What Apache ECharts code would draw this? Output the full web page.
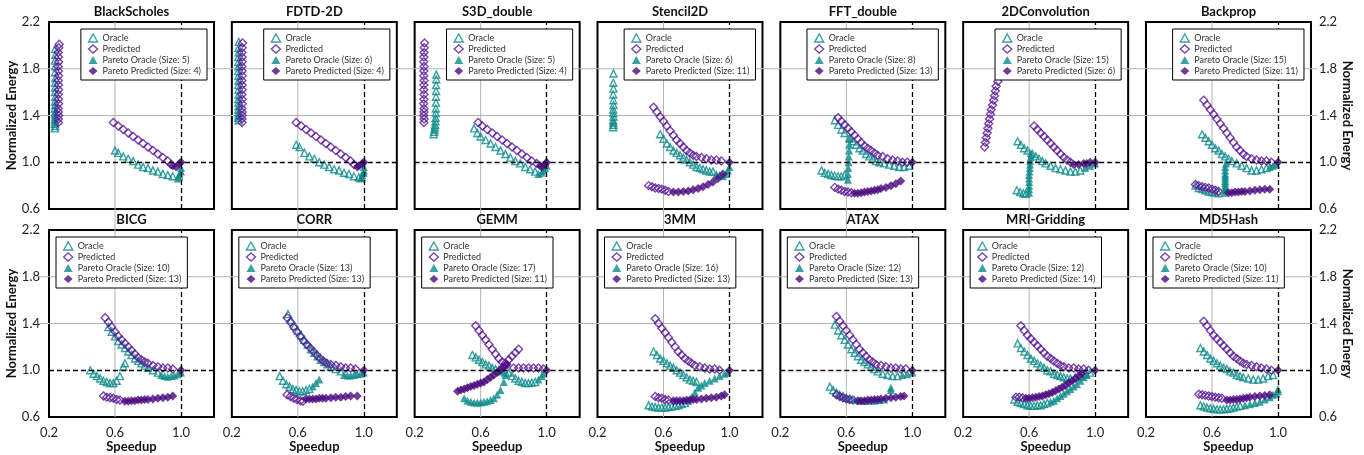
<!DOCTYPE html>
<html>
<head>
<meta charset="utf-8">
<script src="https://cdn.jsdelivr.net/npm/echarts@6/dist/echarts.min.js"></script>
<style>
  html, body { margin: 0; padding: 0; background: #fff; }
  #main { width: 1364px; height: 455px; }
</style>
</head>
<body>
<div id="main"></div>
<script>
// panel names and pareto set sizes (from the legends)
const benchmarks = ['BlackScholes', 'FDTD-2D', 'S3D_double', 'Stencil2D', 'FFT_double', '2DConvolution', 'Backprop',
                    'BICG', 'CORR', 'GEMM', '3MM', 'ATAX', 'MRI-Gridding', 'MD5Hash'];
const paretoOracleSizes = [5, 6, 5, 6, 8, 15, 15, 10, 13, 17, 16, 12, 12, 10];
const paretoPredictedSizes = [4, 4, 4, 11, 13, 6, 11, 13, 13, 11, 13, 13, 14, 11];
const speedupTicks = [0.2, 0.6, 1.0];
const energyTicks = [0.6, 1.0, 1.4, 1.8, 2.2];

// [speedup, normalized energy]
const bsOracle = [
  [0.236,1.29],[0.238,1.31],[0.235,1.33],[0.237,1.35],[0.236,1.37],[0.238,1.39],[0.236,1.41],
  [0.237,1.43],[0.235,1.46],[0.237,1.49],[0.236,1.52],[0.238,1.56],[0.236,1.60],[0.237,1.64],
  [0.236,1.68],[0.238,1.72],[0.236,1.77],[0.237,1.82],[0.236,1.87],[0.238,1.92],[0.237,1.97],
  [0.60,1.10],[0.62,1.08],[0.65,1.05],[0.68,1.03],[0.71,1.01],[0.74,0.98],[0.77,0.96],
  [0.80,0.95],[0.83,0.93],[0.86,0.92],[0.89,0.90],[0.92,0.89],[0.95,0.88]
];
const bsPredicted = [
  [0.257,1.34],[0.256,1.37],[0.258,1.40],[0.257,1.43],[0.256,1.46],[0.258,1.50],[0.257,1.54],
  [0.256,1.58],[0.258,1.62],[0.257,1.66],[0.256,1.70],[0.258,1.74],[0.257,1.78],[0.256,1.82],
  [0.258,1.86],[0.257,1.90],[0.256,1.94],[0.259,1.98],[0.262,2.01],
  [0.59,1.34],[0.62,1.31],[0.65,1.28],[0.68,1.25],[0.71,1.22],[0.74,1.19],[0.77,1.16],
  [0.80,1.13],[0.83,1.10],[0.86,1.07],[0.89,1.04],[0.92,1.01],[0.94,0.98]
];
const bsParetoOracle = [[0.98,0.86],[0.99,0.88],[0.99,0.90],[1.0,0.92],[1.0,0.95]];
const bsParetoPredicted = [[0.95,0.97],[0.97,0.96],[0.99,0.99],[1.0,1.0]];

const fdOracle = [
  [0.241,1.36],[0.239,1.38],[0.241,1.40],[0.240,1.42],[0.239,1.45],[0.241,1.48],[0.240,1.51],
  [0.239,1.54],[0.241,1.58],[0.240,1.62],[0.239,1.66],[0.241,1.70],[0.240,1.74],[0.239,1.78],
  [0.241,1.82],[0.240,1.86],[0.239,1.90],[0.241,1.94],[0.240,1.98],[0.242,2.03],
  [0.59,1.15],[0.61,1.13],[0.64,1.08],[0.67,1.05],[0.70,1.03],[0.73,1.00],[0.76,0.98],
  [0.79,0.96],[0.82,0.94],[0.85,0.93],[0.88,0.91],[0.91,0.90],[0.94,0.88],[0.97,0.87]
];
const fdPredicted = [
  [0.262,1.34],[0.261,1.37],[0.263,1.40],[0.262,1.43],[0.261,1.46],[0.263,1.50],[0.262,1.54],
  [0.261,1.58],[0.263,1.62],[0.262,1.66],[0.261,1.70],[0.263,1.74],[0.262,1.78],[0.261,1.82],
  [0.263,1.86],[0.262,1.90],[0.261,1.94],[0.263,1.98],[0.265,2.02],
  [0.59,1.34],[0.62,1.31],[0.65,1.28],[0.68,1.25],[0.71,1.22],[0.74,1.19],[0.77,1.16],
  [0.80,1.13],[0.83,1.10],[0.86,1.07],[0.89,1.04],[0.92,1.01],[0.94,0.98]
];
const fdParetoOracle = [[0.98,0.86],[0.99,0.87],[0.99,0.89],[1.0,0.91],[1.0,0.93],[1.0,0.96]];
const fdParetoPredicted = [[0.96,0.96],[0.97,0.97],[0.99,0.99],[1.0,1.0]];

const s3Oracle = [
  [0.315,1.24],[0.318,1.26],[0.320,1.28],[0.322,1.30],[0.324,1.32],[0.326,1.35],[0.327,1.38],
  [0.328,1.42],[0.328,1.46],[0.329,1.51],[0.329,1.56],[0.330,1.61],[0.330,1.66],[0.331,1.71],[0.331,1.75],
  [0.56,1.29],[0.58,1.25],[0.60,1.22],[0.63,1.19],[0.66,1.16],[0.69,1.13],[0.72,1.10],
  [0.75,1.07],[0.78,1.04],[0.81,1.01],[0.84,0.99],[0.87,0.96],[0.90,0.94],[0.93,0.92]
];
const s3Predicted = [
  [0.256,1.34],[0.257,1.37],[0.255,1.40],[0.256,1.43],[0.257,1.46],[0.255,1.50],[0.256,1.54],
  [0.257,1.58],[0.255,1.62],[0.256,1.66],[0.257,1.70],[0.255,1.74],[0.256,1.78],[0.257,1.82],
  [0.255,1.86],[0.256,1.90],[0.257,1.94],[0.258,1.98],[0.260,2.02],
  [0.585,1.34],[0.61,1.31],[0.64,1.28],[0.67,1.25],[0.70,1.22],[0.73,1.19],[0.76,1.16],
  [0.79,1.13],[0.82,1.10],[0.85,1.07],[0.88,1.04],[0.91,1.01],[0.94,0.99]
];
const s3ParetoOracle = [[0.95,0.90],[0.97,0.91],[0.98,0.93],[0.99,0.95],[1.0,0.97]];
const s3ParetoPredicted = [[0.96,0.97],[0.97,0.96],[0.99,0.98],[1.0,1.0]];

const stOracle = [
  [0.295,1.30],[0.297,1.32],[0.296,1.34],[0.295,1.36],[0.297,1.39],[0.296,1.42],[0.295,1.45],
  [0.297,1.49],[0.296,1.53],[0.295,1.58],[0.297,1.63],[0.296,1.68],[0.297,1.76],
  [0.58,1.24],[0.60,1.20],[0.62,1.16],[0.64,1.13],[0.66,1.10],[0.68,1.08],[0.70,1.06],
  [0.72,1.04],[0.74,1.02],[0.76,1.00],[0.78,0.98],[0.80,0.96],[0.82,0.95],[0.84,0.94],
  [0.86,0.93],[0.88,0.92],[0.90,0.92]
];
const stPredicted = [
  [0.54,1.47],[0.56,1.43],[0.58,1.39],[0.60,1.35],[0.62,1.31],[0.64,1.27],[0.66,1.23],
  [0.68,1.19],[0.70,1.16],[0.72,1.13],[0.74,1.10],[0.76,1.08],[0.78,1.06],[0.80,1.05],
  [0.83,1.04],[0.86,1.03],[0.89,1.02],[0.92,1.02],[0.95,1.01],
  [0.51,0.80],[0.53,0.79],[0.55,0.78],[0.57,0.775],[0.59,0.77],[0.61,0.76],[0.63,0.75]
];
const stParetoOracle = [[0.92,0.90],[0.94,0.89],[0.96,0.88],[0.98,0.90],[0.99,0.93],[1.0,0.96]];
const stParetoPredicted = [
  [0.66,0.745],[0.69,0.745],[0.72,0.75],[0.75,0.755],[0.78,0.765],[0.81,0.775],[0.84,0.79],
  [0.87,0.81],[0.90,0.83],[0.93,0.86],[0.96,0.90],[1.0,1.0]
];

const ffOracle = [
  [0.53,1.36],[0.55,1.32],[0.57,1.28],[0.59,1.25],[0.62,1.21],[0.64,1.18],[0.66,1.15],
  [0.68,1.12],[0.70,1.10],[0.72,1.07],[0.74,1.05],[0.76,1.03],[0.78,1.01],[0.80,1.00],
  [0.83,0.99],[0.86,0.98],[0.89,0.97],[0.92,0.96],[0.95,0.96],[0.98,0.97],
  [0.45,0.93],[0.47,0.91],[0.49,0.90],[0.51,0.89],[0.53,0.885],[0.55,0.88],[0.57,0.88],[0.59,0.89]
];
const ffParetoOracle = [[0.61,0.85],[0.61,0.90],[0.612,0.95],[0.614,1.00],[0.615,1.05],[0.617,1.10],[0.618,1.15],[0.62,1.20]];
const ffPredicted = [
  [0.55,1.38],[0.57,1.35],[0.59,1.32],[0.61,1.29],[0.63,1.26],[0.65,1.23],[0.67,1.20],
  [0.69,1.17],[0.71,1.14],[0.73,1.12],[0.75,1.10],[0.77,1.08],[0.79,1.06],[0.82,1.05],
  [0.85,1.03],[0.88,1.02],[0.91,1.01],[0.94,1.00],[0.97,1.00],
  [0.53,0.785],[0.55,0.77],[0.57,0.76],[0.59,0.75],[0.61,0.745],[0.63,0.74]
];
const ffParetoPredicted = [
  [0.65,0.735],[0.67,0.735],[0.69,0.74],[0.71,0.745],[0.73,0.75],[0.75,0.755],[0.77,0.76],
  [0.79,0.765],[0.81,0.775],[0.84,0.785],[0.87,0.80],[0.90,0.815],[0.93,0.84],[1.0,1.0]
];

const cvOracle = [
  [0.53,1.18],[0.55,1.15],[0.57,1.12],[0.59,1.10],[0.62,1.07],[0.64,1.05],[0.66,1.03],
  [0.68,1.01],[0.70,0.99],[0.73,0.97],[0.76,0.95],[0.79,0.94],[0.82,0.93],[0.85,0.92],
  [0.88,0.92],[0.91,0.93],
  [0.525,0.76],[0.545,0.745],[0.565,0.735],[0.58,0.73]
];
const cvParetoOracle = [
  [0.60,0.74],[0.60,0.77],[0.60,0.80],[0.60,0.83],[0.60,0.86],[0.60,0.89],[0.602,0.92],
  [0.604,0.95],[0.605,0.98],[0.606,1.01],[0.608,1.04],[0.61,1.08],[0.94,0.95],[0.97,0.97],[1.0,0.99]
];
const cvPredicted = [
  [0.33,1.13],[0.335,1.17],[0.34,1.21],[0.345,1.25],[0.35,1.29],[0.355,1.33],[0.36,1.37],
  [0.365,1.41],[0.37,1.45],[0.378,1.49],[0.385,1.53],[0.39,1.57],[0.395,1.61],[0.40,1.65],[0.41,1.69],
  [0.63,1.31],[0.65,1.28],[0.67,1.25],[0.69,1.22],[0.71,1.19],[0.73,1.16],[0.75,1.13],
  [0.77,1.10],[0.79,1.07],[0.81,1.04],[0.83,1.02],[0.85,1.00]
];
const cvParetoPredicted = [[0.87,0.98],[0.90,0.98],[0.93,0.99],[0.95,0.99],[0.97,1.0],[1.0,1.0]];

const bpOracle = [
  [0.54,1.24],[0.56,1.21],[0.58,1.18],[0.60,1.15],[0.62,1.12],[0.64,1.10],[0.66,1.07],
  [0.68,1.05],[0.70,1.03],[0.72,1.01],[0.75,0.99],[0.78,0.97],[0.81,0.95],[0.84,0.93],
  [0.87,0.93],[0.90,0.94],[0.93,0.95],
  [0.50,0.80],[0.52,0.78],[0.54,0.77],[0.56,0.76],[0.58,0.75],[0.60,0.745],[0.62,0.74],[0.64,0.735]
];
const bpParetoOracle = [
  [0.68,0.74],[0.68,0.76],[0.68,0.78],[0.68,0.80],[0.68,0.82],[0.68,0.84],[0.68,0.86],
  [0.68,0.88],[0.68,0.90],[0.68,0.93],[0.68,0.96],[0.685,0.99],[0.95,0.96],[0.97,0.97],[0.99,0.98]
];
const bpPredicted = [
  [0.55,1.53],[0.57,1.49],[0.59,1.45],[0.61,1.41],[0.63,1.37],[0.65,1.33],[0.67,1.29],
  [0.69,1.25],[0.71,1.21],[0.73,1.17],[0.75,1.13],[0.77,1.10],[0.79,1.07],[0.81,1.05],
  [0.84,1.03],[0.87,1.02],[0.90,1.01],[0.93,1.01],[0.96,1.00],
  [0.50,0.81],[0.52,0.80],[0.54,0.79],[0.56,0.785],[0.58,0.78],[0.60,0.77],[0.62,0.76],[0.64,0.75]
];
const bpParetoPredicted = [
  [0.70,0.74],[0.72,0.74],[0.74,0.745],[0.76,0.745],[0.78,0.75],[0.80,0.75],[0.83,0.755],
  [0.86,0.76],[0.89,0.765],[0.92,0.77],[0.95,0.77],[1.0,1.0]
];

const biOracle = [
  [0.56,1.37],[0.58,1.33],[0.60,1.29],[0.62,1.25],[0.64,1.22],[0.66,1.19],[0.68,1.16],
  [0.70,1.13],[0.72,1.10],[0.74,1.08],[0.76,1.06],[0.78,1.04],[0.80,1.02],[0.83,1.00],[0.86,0.98],
  [0.45,1.00],[0.47,0.97],[0.49,0.95],[0.51,0.93],[0.53,0.91],[0.55,0.90],[0.57,0.89],
  [0.59,0.89],[0.61,0.91],[0.63,0.95],[0.65,1.03],[0.66,1.06]
];
const biParetoOracle = [[0.88,0.96],[0.90,0.95],[0.92,0.945],[0.94,0.95],[0.96,0.955],[0.98,0.965],[1.0,0.98]];
const biPredicted = [
  [0.54,1.45],[0.56,1.41],[0.58,1.37],[0.60,1.33],[0.62,1.29],[0.64,1.26],[0.66,1.23],
  [0.68,1.20],[0.70,1.17],[0.72,1.14],[0.74,1.11],[0.76,1.09],[0.78,1.07],[0.80,1.06],
  [0.83,1.04],[0.86,1.03],[0.89,1.02],[0.92,1.02],[0.95,1.01],
  [0.53,0.78],[0.55,0.77],[0.57,0.765],[0.59,0.76],[0.61,0.75],[0.63,0.745]
];
const biParetoPredicted = [
  [0.66,0.735],[0.68,0.735],[0.70,0.74],[0.72,0.74],[0.74,0.745],[0.76,0.745],[0.78,0.75],
  [0.80,0.75],[0.83,0.755],[0.86,0.76],[0.89,0.765],[0.92,0.77],[0.95,0.78],[1.0,1.0]
];

const coOracle = [
  [0.54,1.48],[0.56,1.43],[0.58,1.38],[0.60,1.34],[0.62,1.30],[0.64,1.26],[0.66,1.22],
  [0.68,1.18],[0.70,1.15],[0.72,1.12],[0.74,1.09],[0.76,1.07],[0.78,1.05],[0.80,1.03],
  [0.83,1.01],[0.86,0.99],
  [0.49,0.95],[0.51,0.91],[0.53,0.88],[0.55,0.86],[0.57,0.84],[0.59,0.83],[0.61,0.82],
  [0.63,0.82],[0.65,0.83],[0.67,0.84]
];
const coParetoOracle = [[0.69,0.86],[0.71,0.89],[0.73,0.92],[0.88,0.96],[0.90,0.955],[0.92,0.955],[0.94,0.96],[0.96,0.965],[0.98,0.97],[1.0,0.98]];
const coPredicted = [
  [0.535,1.45],[0.555,1.41],[0.575,1.37],[0.595,1.33],[0.615,1.29],[0.635,1.25],[0.655,1.22],
  [0.675,1.19],[0.695,1.16],[0.715,1.13],[0.735,1.10],[0.755,1.08],[0.775,1.06],[0.80,1.05],
  [0.83,1.04],[0.86,1.03],[0.89,1.02],[0.92,1.02],[0.95,1.01],
  [0.535,0.79],[0.555,0.775],[0.575,0.76],[0.595,0.75],[0.615,0.74],[0.63,0.735]
];
const coParetoPredicted = [
  [0.65,0.755],[0.67,0.755],[0.69,0.755],[0.71,0.755],[0.73,0.76],[0.75,0.76],[0.77,0.76],
  [0.80,0.765],[0.83,0.77],[0.86,0.77],[0.89,0.775],[0.92,0.78],[0.96,0.78],[1.0,1.0]
];

const geOracle = [
  [0.55,1.13],[0.57,1.11],[0.59,1.09],[0.61,1.07],[0.63,1.05],[0.65,1.04],[0.67,1.02],
  [0.69,1.01],[0.71,1.00],[0.73,0.99],[0.75,0.98],
  [0.77,0.98],[0.79,0.95],[0.81,0.93],[0.83,0.91],[0.85,0.90],[0.87,0.89],[0.89,0.89],
  [0.91,0.895],[0.93,0.90]
];
const geParetoOracle = [
  [0.50,0.76],[0.52,0.74],[0.54,0.73],[0.56,0.725],[0.58,0.725],[0.60,0.725],[0.62,0.73],
  [0.64,0.735],[0.66,0.745],[0.68,0.76],[0.70,0.79],[0.72,0.83],[0.74,0.90],[0.75,0.96],
  [0.95,0.92],[0.97,0.95],[0.98,0.97]
];
const gePredicted = [
  [0.57,1.38],[0.59,1.34],[0.61,1.30],[0.63,1.26],[0.65,1.22],[0.67,1.18],[0.69,1.14],
  [0.71,1.10],[0.73,1.07],[0.75,1.04],
  [0.73,1.02],[0.75,1.06],[0.77,1.09],[0.79,1.12],[0.81,1.15],[0.83,1.18],
  [0.80,1.02],[0.83,1.02],[0.86,1.02],[0.89,1.02],[0.92,1.02],[0.95,1.02],[0.98,1.01]
];
const geParetoPredicted = [
  [0.46,0.82],[0.48,0.83],[0.50,0.84],[0.52,0.85],[0.54,0.86],[0.56,0.87],[0.58,0.88],
  [0.60,0.89],[0.62,0.90],[0.64,0.92],[0.66,0.94],[0.68,0.96],[0.70,0.98],[0.72,1.00],
  [0.74,1.03],[0.76,1.05],[1.0,1.0]
];

const mmOracle = [
  [0.54,1.16],[0.56,1.13],[0.58,1.10],[0.60,1.08],[0.62,1.06],[0.64,1.04],[0.66,1.02],
  [0.68,1.00],[0.70,0.98],[0.72,0.96],[0.74,0.94],[0.76,0.92],[0.78,0.91],[0.80,0.90],
  [0.51,0.70],[0.53,0.69],[0.55,0.685],[0.57,0.68],[0.59,0.68],[0.61,0.68],[0.63,0.685],
  [0.65,0.69],[0.67,0.695],[0.69,0.70],[0.71,0.71],[0.73,0.72]
];
const mmParetoOracle = [
  [0.75,0.74],[0.77,0.77],[0.79,0.81],[0.81,0.85],[0.83,0.87],[0.85,0.89],[0.88,0.91],
  [0.91,0.93],[0.94,0.95],[0.97,0.97],[0.99,0.98]
];
const mmPredicted = [
  [0.55,1.44],[0.57,1.40],[0.59,1.36],[0.61,1.32],[0.63,1.28],[0.65,1.24],[0.67,1.20],
  [0.69,1.16],[0.71,1.13],[0.73,1.10],[0.75,1.08],[0.77,1.06],[0.79,1.04],[0.82,1.03],
  [0.85,1.02],[0.88,1.01],[0.91,1.01],[0.94,1.00],
  [0.55,0.775],[0.57,0.765],[0.59,0.76],[0.61,0.75],[0.63,0.745]
];
const mmParetoPredicted = [
  [0.66,0.74],[0.68,0.74],[0.70,0.74],[0.72,0.74],[0.74,0.745],[0.76,0.745],[0.78,0.75],
  [0.80,0.75],[0.83,0.755],[0.86,0.76],[0.89,0.765],[0.92,0.77],[0.95,0.78],[0.97,0.79],[1.0,1.0]
];

const atOracle = [
  [0.53,1.39],[0.55,1.34],[0.57,1.30],[0.59,1.26],[0.61,1.22],[0.63,1.18],[0.65,1.15],
  [0.67,1.12],[0.69,1.09],[0.71,1.07],[0.73,1.05],[0.75,1.03],[0.77,1.01],[0.79,0.99],
  [0.82,0.97],[0.85,0.96],[0.88,0.95],[0.91,0.95],
  [0.50,0.86],[0.52,0.83],[0.54,0.81],[0.56,0.79],[0.58,0.78],[0.60,0.765],[0.62,0.755]
];
const atParetoOracle = [
  [0.65,0.745],[0.68,0.74],[0.71,0.74],[0.74,0.74],[0.77,0.74],[0.80,0.745],[0.83,0.75],
  [0.87,0.83],[0.87,0.85],[0.94,0.96],[0.97,0.965],[1.0,0.98]
];
const atPredicted = [
  [0.54,1.46],[0.56,1.42],[0.58,1.38],[0.60,1.34],[0.62,1.30],[0.64,1.26],[0.66,1.22],
  [0.68,1.18],[0.70,1.15],[0.72,1.12],[0.74,1.09],[0.76,1.07],[0.78,1.05],[0.81,1.04],
  [0.84,1.03],[0.87,1.02],[0.90,1.02],[0.93,1.01],[0.96,1.01],
  [0.54,0.79],[0.56,0.775],[0.58,0.765],[0.60,0.755],[0.62,0.75],[0.64,0.745]
];
const atParetoPredicted = [
  [0.67,0.74],[0.69,0.74],[0.71,0.74],[0.73,0.745],[0.75,0.745],[0.77,0.75],[0.79,0.75],
  [0.81,0.755],[0.84,0.76],[0.87,0.765],[0.90,0.77],[0.93,0.775],[0.95,0.78],[1.0,1.0]
];

const mrOracle = [
  [0.53,1.23],[0.55,1.19],[0.57,1.16],[0.59,1.13],[0.61,1.10],[0.63,1.08],[0.65,1.06],
  [0.67,1.04],[0.69,1.02],[0.71,1.00],[0.73,0.99],[0.75,0.97],[0.77,0.96],[0.79,0.95],
  [0.81,0.94],[0.83,0.93],[0.85,0.93],[0.88,0.94],[0.91,0.95],[0.94,0.97],[0.97,0.98],
  [0.51,0.75],[0.53,0.73],[0.55,0.72],[0.57,0.71],[0.59,0.70],[0.61,0.695],[0.63,0.695],
  [0.65,0.70],[0.67,0.70],[0.69,0.71],[0.71,0.72]
];
const mrParetoOracle = [
  [0.73,0.73],[0.75,0.74],[0.77,0.76],[0.79,0.78],[0.81,0.80],[0.83,0.82],[0.85,0.84],
  [0.87,0.86],[0.89,0.88],[0.91,0.91],[0.93,0.94],[0.95,0.96]
];
const mrPredicted = [
  [0.55,1.38],[0.57,1.34],[0.59,1.30],[0.61,1.27],[0.63,1.24],[0.65,1.21],[0.67,1.18],
  [0.69,1.15],[0.71,1.12],[0.73,1.10],[0.75,1.08],[0.77,1.06],[0.79,1.04],[0.81,1.03],
  [0.84,1.02],[0.87,1.02],[0.90,1.01],[0.93,1.01],[0.96,1.00],
  [0.52,0.77],[0.54,0.77],[0.56,0.765]
];
const mrParetoPredicted = [
  [0.58,0.76],[0.60,0.76],[0.62,0.765],[0.64,0.77],[0.66,0.775],[0.68,0.78],[0.70,0.79],
  [0.72,0.80],[0.74,0.81],[0.76,0.825],[0.78,0.84],[0.80,0.855],[0.82,0.87],[0.84,0.89],
  [0.86,0.91],[0.88,0.93],[0.90,0.95],[0.92,0.97],[1.0,1.0]
];

const mdOracle = [
  [0.53,1.19],[0.55,1.16],[0.57,1.13],[0.59,1.10],[0.61,1.08],[0.63,1.06],[0.65,1.04],
  [0.67,1.02],[0.69,1.01],[0.71,0.99],[0.73,0.98],[0.75,0.96],[0.77,0.95],[0.79,0.94],
  [0.82,0.93],[0.85,0.92],[0.88,0.92],[0.91,0.93],[0.94,0.95],[0.97,0.96],
  [0.53,0.70],[0.55,0.69],[0.57,0.68],[0.59,0.675],[0.61,0.67],[0.63,0.665],[0.65,0.665],
  [0.67,0.665],[0.69,0.67],[0.71,0.675],[0.73,0.68],[0.75,0.69],[0.77,0.695]
];
const mdParetoOracle = [
  [0.80,0.70],[0.83,0.71],[0.86,0.72],[0.89,0.73],[0.92,0.75],[0.95,0.77],[0.97,0.79],
  [0.99,0.80],[1.0,0.82],[1.0,0.84]
];
const mdPredicted = [
  [0.55,1.42],[0.57,1.38],[0.59,1.34],[0.61,1.30],[0.63,1.27],[0.65,1.24],[0.67,1.21],
  [0.69,1.18],[0.71,1.15],[0.73,1.12],[0.75,1.10],[0.77,1.08],[0.79,1.06],[0.81,1.05],
  [0.84,1.04],[0.87,1.03],[0.90,1.02],[0.93,1.01],[0.96,1.00],
  [0.52,0.795],[0.54,0.79],[0.56,0.785],[0.58,0.78],[0.60,0.775],[0.62,0.77],[0.64,0.765],[0.66,0.76]
];
const mdParetoPredicted = [
  [0.69,0.745],[0.71,0.745],[0.73,0.75],[0.75,0.75],[0.77,0.755],[0.79,0.76],[0.81,0.765],
  [0.83,0.77],[0.86,0.775],[0.89,0.78],[0.92,0.785],[0.95,0.79],[1.0,1.0]
];

const oracleData = [bsOracle, fdOracle, s3Oracle, stOracle, ffOracle, cvOracle, bpOracle,
                    biOracle, coOracle, geOracle, mmOracle, atOracle, mrOracle, mdOracle];
const predictedData = [bsPredicted, fdPredicted, s3Predicted, stPredicted, ffPredicted, cvPredicted, bpPredicted,
                       biPredicted, coPredicted, gePredicted, mmPredicted, atPredicted, mrPredicted, mdPredicted];
const paretoOracleData = [bsParetoOracle, fdParetoOracle, s3ParetoOracle, stParetoOracle, ffParetoOracle, cvParetoOracle, bpParetoOracle,
                          biParetoOracle, coParetoOracle, geParetoOracle, mmParetoOracle, atParetoOracle, mrParetoOracle, mdParetoOracle];
const paretoPredictedData = [bsParetoPredicted, fdParetoPredicted, s3ParetoPredicted, stParetoPredicted, ffParetoPredicted, cvParetoPredicted, bpParetoPredicted,
                             biParetoPredicted, coParetoPredicted, geParetoPredicted, mmParetoPredicted, atParetoPredicted, mrParetoPredicted, mdParetoPredicted];

const TEAL = '#0b8a8a';
const PURPLE = '#4b0a80';
const HOLLOW_PURPLE = '#5a1896';
const FONT = 'Lato';

const chart = echarts.init(document.getElementById('main'));

// panel layout
const W = 1364;
const left0 = 49, step = 182.83, pw = 165, ph = 187;
const rowTops = [22, 230];

const grids = [], xAxes = [], yAxes = [], series = [], legends = [], titles = [];

benchmarks.forEach(function (name, i) {
    const row = Math.floor(i / 7), col = i % 7;
    const left = left0 + col * step, top = rowTops[row];
    grids.push({ left: left, top: top, width: pw, height: ph, show: true,
                 borderColor: '#000', borderWidth: 2, backgroundColor: 'transparent' });
    titles.push({ text: name, left: left + pw / 2, top: top - 18, textAlign: 'center', padding: 0,
                  textStyle: { fontFamily: FONT, fontSize: 13, fontWeight: 'bold', color: '#111', lineHeight: 16 } });

    const bottom = row === 1;
    xAxes.push({
        gridIndex: i, type: 'value', min: speedupTicks[0], max: 1.2, interval: 0.4,
        axisLine: { show: false }, axisTick: { show: false }, splitLine: { show: false },
        axisLabel: { show: bottom, showMaxLabel: false, margin: 9, fontFamily: FONT, fontSize: 13, color: '#222',
                     formatter: function (v) { return v.toFixed(1); } },
        name: bottom ? 'Speedup' : '', nameLocation: 'middle', nameGap: 22,
        nameTextStyle: { fontFamily: FONT, fontSize: 13, fontWeight: 'bold', color: '#111' }
    });
    const leftLab = col === 0, rightLab = col === 6;
    yAxes.push({
        gridIndex: i, type: 'value', min: energyTicks[0], max: energyTicks[energyTicks.length - 1], interval: 0.4,
        position: rightLab ? 'right' : 'left',
        axisLine: { show: false }, axisTick: { show: false }, splitLine: { show: false },
        axisLabel: { show: leftLab || rightLab, margin: rightLab ? 8 : 9, fontFamily: FONT, fontSize: 13, color: '#222',
                     formatter: function (v) { return v.toFixed(1); } },
        name: (leftLab || rightLab) ? 'Normalized Energy' : '', nameLocation: 'middle',
        nameGap: rightLab ? 23 : 29, nameRotate: rightLab ? -90 : 90,
        nameTextStyle: { fontFamily: FONT, fontSize: 13, fontWeight: 'bold', color: '#111' }
    });

    const poName = 'Pareto Oracle (Size: ' + paretoOracleSizes[i] + ')';
    const ppName = 'Pareto Predicted (Size: ' + paretoPredictedSizes[i] + ')';

    series.push({
        name: 'Oracle', type: 'scatter', xAxisIndex: i, yAxisIndex: i, symbol: 'triangle', symbolSize: 7,
        itemStyle: { color: 'rgba(255,255,255,0)', borderColor: TEAL, borderWidth: 1.4 },
        data: oracleData[i],
        markLine: {
            silent: true, symbol: ['none', 'none'], label: { show: false },
            lineStyle: { color: '#000', type: [5, 3], width: 1.3 },
            data: [{ xAxis: 1.0 }, { yAxis: 1.0 }]
        }
    });
    series.push({
        name: 'Predicted', type: 'scatter', xAxisIndex: i, yAxisIndex: i, symbol: 'diamond', symbolSize: 8,
        itemStyle: { color: 'rgba(255,255,255,0)', borderColor: HOLLOW_PURPLE, borderWidth: 1.4 },
        data: predictedData[i]
    });
    series.push({
        name: poName, type: 'scatter', xAxisIndex: i, yAxisIndex: i, symbol: 'triangle', symbolSize: 8,
        itemStyle: { color: TEAL }, data: paretoOracleData[i]
    });
    series.push({
        name: ppName, type: 'scatter', xAxisIndex: i, yAxisIndex: i, symbol: 'diamond', symbolSize: 9,
        itemStyle: { color: PURPLE }, data: paretoPredictedData[i]
    });

    const lg = {
        orient: 'vertical', top: top + 7, itemWidth: 9, itemHeight: 8, itemGap: 1,
        padding: [4, 6, 4, 7], borderColor: '#000', borderWidth: 1, backgroundColor: '#fff',
        selectedMode: false, z: 10,
        textStyle: { fontFamily: FONT, fontSize: 9, color: '#333', lineHeight: 10 },
        data: [
            { name: 'Oracle', icon: 'triangle', itemStyle: { color: 'rgba(255,255,255,0)', borderColor: TEAL, borderWidth: 1.4 } },
            { name: 'Predicted', icon: 'diamond', itemStyle: { color: 'rgba(255,255,255,0)', borderColor: HOLLOW_PURPLE, borderWidth: 1.4 } },
            { name: poName, icon: 'triangle', itemStyle: { color: TEAL, borderWidth: 0 } },
            { name: ppName, icon: 'diamond', itemStyle: { color: PURPLE, borderWidth: 0 } }
        ]
    };
    if (row === 0) lg.right = W - (left + pw - 7);
    else lg.left = left + 7;
    legends.push(lg);
});

const option = {
    animation: false,
    backgroundColor: '#fff',
    textStyle: { fontFamily: FONT },
    title: titles,
    grid: grids,
    xAxis: xAxes,
    yAxis: yAxes,
    legend: legends,
    series: series
};
chart.setOption(option);

// grey reference lines run across the gaps between panels
function gapLines() {
    const els = [];
    const style = { stroke: '#b3b3b3', lineWidth: 1 };
    for (let r = 0; r < 2; r++) {
        [1.4, 1.8].forEach(function (v) {
            const a = chart.convertToPixel({ gridIndex: r * 7 }, [0.2, v]);
            const b = chart.convertToPixel({ gridIndex: r * 7 + 6 }, [1.2, v]);
            els.push({ type: 'line', silent: true, z: 0,
                       shape: { x1: a[0] - 10, y1: a[1], x2: b[0] + 6, y2: b[1] }, style: style });
        });
    }
    for (let c = 0; c < 7; c++) {
        const a = chart.convertToPixel({ gridIndex: c }, [0.6, 2.2]);
        const b = chart.convertToPixel({ gridIndex: c + 7 }, [0.6, 0.6]);
        els.push({ type: 'line', silent: true, z: 0,
                   shape: { x1: a[0], y1: a[1], x2: b[0], y2: b[1] }, style: style });
    }
    chart.setOption({ graphic: els });
}
gapLines();
</script>
</body>
</html>
